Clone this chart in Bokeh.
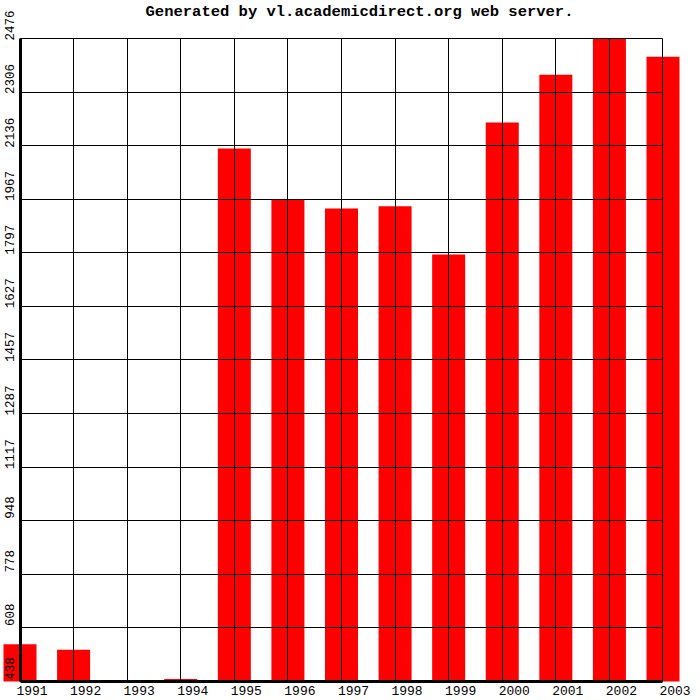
from bokeh.plotting import figure
from bokeh.models import Range1d, LinearAxis, FixedTicker, Grid, Label
from bokeh.embed import file_html
from bokeh.resources import INLINE

# ---- data ----
years = [1991, 1992, 1993, 1994, 1995, 1996, 1997, 1998, 1999, 2000, 2001, 2002, 2003]
values = [556, 539, 438, 446, 2127, 1966, 1937, 1944, 1791, 2210, 2361, 2476, 2418]
y_ticks = [438, 608, 778, 948, 1117, 1287, 1457, 1627, 1797, 1967, 2136, 2306, 2476]
y_tick_labels = [str(v) for v in y_ticks]
x_tick_labels = [str(y) for y in years]
title_text = "Generated by vl.academicdirect.org web server."

base = y_ticks[0]
top_v = y_ticks[-1]
MONO = "Liberation Mono"

p = figure(width=700, height=700,
           x_range=Range1d(1990.636, 2003.700),
           y_range=Range1d(377.8, 2596.4),
           x_axis_type=None, y_axis_type=None, title=None,
           toolbar_location=None, output_backend="svg", min_border=0)
p.outline_line_color = None
p.background_fill_color = "white"
p.border_fill_color = "white"

p.vbar(x=years, top=values, bottom=base, width=0.616,
       fill_color="#ff0000", line_color=None)


def add_grid(dim, ticks, cross, width):
    g = Grid(dimension=dim, ticker=FixedTicker(ticks=ticks),
             grid_line_color="black", grid_line_width=width, level="overlay")
    try:
        g.cross_bounds = cross
        p.add_layout(g)
    except AttributeError:
        if dim == 0:
            p.segment(x0=ticks, y0=[cross[0]] * len(ticks), x1=ticks,
                      y1=[cross[1]] * len(ticks), line_color="black", line_width=width)
        else:
            p.segment(x0=[cross[0]] * len(ticks), y0=ticks, x1=[cross[1]] * len(ticks),
                      y1=ticks, line_color="black", line_width=width)


add_grid(0, years, (base, top_v), 1)
add_grid(1, y_ticks, (years[0], years[-1]), 1)
add_grid(0, [years[0]], (base, top_v), 3)
add_grid(1, [base], (years[0], years[-1]), 3)

# x axis labels (offset to the right of each bar, as in the reference)
x_shift = 0.224
x_lab_ticks = [y + x_shift for y in years]
xaxis = LinearAxis(ticker=FixedTicker(ticks=x_lab_ticks),
                   major_label_overrides={t: s for t, s in zip(x_lab_ticks, x_tick_labels)},
                   fixed_location=base,
                   axis_line_color=None, major_tick_line_color=None, minor_tick_line_color=None,
                   major_tick_in=0, major_tick_out=0, minor_tick_in=0, minor_tick_out=0,
                   major_label_standoff=4,
                   major_label_text_font=MONO, major_label_text_font_size="13px",
                   major_label_text_color="black")
p.add_layout(xaxis, "below")

# y axis labels (vertical, offset upward from each grid line)
y_shift = 41.2
y_lab_ticks = [v + y_shift for v in y_ticks]
yaxis = LinearAxis(ticker=FixedTicker(ticks=y_lab_ticks),
                   major_label_overrides={t: s for t, s in zip(y_lab_ticks, y_tick_labels)},
                   fixed_location=years[0],
                   major_label_orientation="vertical",
                   axis_line_color=None, major_tick_line_color=None, minor_tick_line_color=None,
                   major_tick_in=0, major_tick_out=0, minor_tick_in=0, minor_tick_out=0,
                   major_label_standoff=6,
                   major_label_text_font=MONO, major_label_text_font_size="12.5px",
                   major_label_text_color="black")
p.add_layout(yaxis, "left")

p.add_layout(Label(x=1997.336, y=2558.4, text=title_text,
                   text_align="center", text_baseline="middle",
                   text_font=MONO, text_font_style="bold", text_font_size="15.5px",
                   text_color="black"))

open("out.html", "w").write(file_html(p, INLINE))
